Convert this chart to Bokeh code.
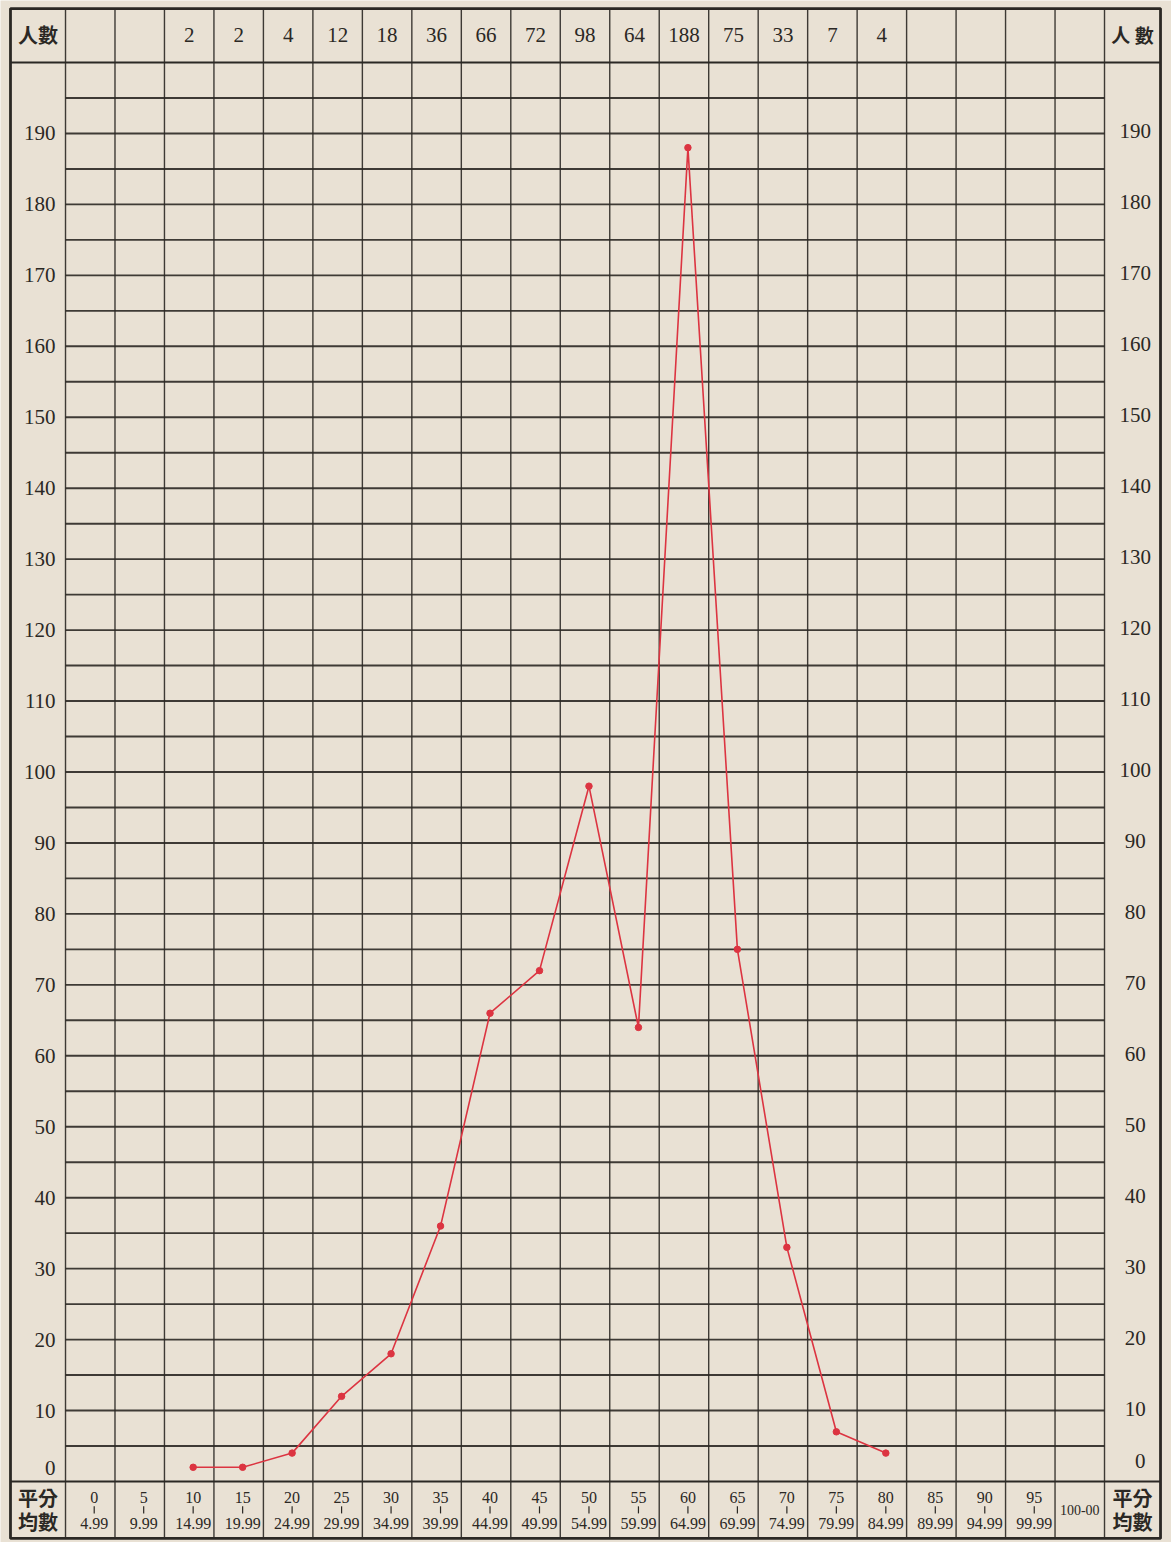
from bokeh.plotting import figure
from bokeh.models import ColumnDataSource, Range1d
from bokeh.embed import file_html
from bokeh.resources import INLINE
from bokeh.core.properties import value

# ---------------- data ----------------
class_lower = list(range(0, 105, 5))            # 21 score classes: 0-4.99 ... 100
class_from = ["0", "5", "10", "15", "20", "25", "30", "35", "40", "45", "50",
              "55", "60", "65", "70", "75", "80", "85", "90", "95"]
class_to = ["4.99", "9.99", "14.99", "19.99", "24.99", "29.99", "34.99", "39.99",
            "44.99", "49.99", "54.99", "59.99", "64.99", "69.99", "74.99", "79.99",
            "84.99", "89.99", "94.99", "99.99"]
last_class = "100-00"
counts = [None, None, 2, 2, 4, 12, 18, 36, 66, 72, 98, 64, 188, 75, 33, 7, 4,
          None, None, None, None]
y_ticks = list(range(0, 200, 10))
count_label = "人數"
score_label_top = "平分"
score_label_bot = "均數"

# ---------------- styles ----------------
PAPER = "#e9e1d4"
INK = "#2b2824"
RED = "#dc3441"
SERIF = value("Liberation Serif")
CJK = value("Noto Sans CJK TC")

COLW = 5.0
LEFT_EDGE = -5.56
RIGHT_EDGE = 110.66
TOP = 207.6
HEAD = 200.0
BOTTOM = -8.03
GRID_TOP = 195
right_sep = class_lower[-1] + COLW

p = figure(width=1171, height=1542,
           x_range=Range1d(-6.57, 111.77), y_range=Range1d(-8.6, 208.74),
           output_backend="svg", toolbar_location=None,
           x_axis_type=None, y_axis_type=None, min_border=0,
           background_fill_color=PAPER, border_fill_color=PAPER,
           outline_line_color=None)
p.grid.visible = False

# vertical separators (full height)
vx = [class_lower[0]] + [c + COLW for c in class_lower]
p.segment(x0=vx, y0=[BOTTOM] * len(vx), x1=vx, y1=[TOP] * len(vx),
          line_color=INK, line_width=1.4, line_alpha=0.9)

# horizontal grid lines in data area
hy = list(range(5, GRID_TOP + 1, 5))
p.segment(x0=[0] * len(hy), y0=hy, x1=[right_sep] * len(hy), y1=hy,
          line_color=INK, line_width=1.9, line_alpha=0.9)

# header / footer separators (full width)
p.segment(x0=[LEFT_EDGE] * 2, y0=[0, HEAD], x1=[RIGHT_EDGE] * 2, y1=[0, HEAD],
          line_color=INK, line_width=2.0)

# outer frame
p.quad(left=[LEFT_EDGE], right=[RIGHT_EDGE], bottom=[BOTTOM], top=[TOP],
       fill_alpha=0, line_color=INK, line_width=2.8)

# header counts
hx = [c + COLW / 2 for c, n in zip(class_lower, counts) if n is not None]
ht = [str(n) for n in counts if n is not None]
p.text(x=hx, y=[203.9] * len(hx), text=ht, text_font=SERIF,
       text_font_size="21px", text_color=INK, text_align="center",
       text_baseline="middle")

# y tick labels
yl = [t for t in y_ticks if t > 0]
p.text(x=[-1.0] * len(yl), y=yl, text=[str(t) for t in yl], text_font=SERIF,
       text_font_size="21px", text_color=INK, text_align="right",
       text_baseline="middle")
p.text(x=[108.1] * len(yl), y=yl, text=[str(t) for t in yl], text_font=SERIF,
       text_font_size="21px", text_color=INK, text_align="center",
       text_baseline="middle", y_offset=-2)
p.text(x=[-1.0], y=[y_ticks[0]], text=[str(y_ticks[0])], text_font=SERIF,
       text_font_size="21px", text_color=INK, text_align="right",
       text_baseline="middle", y_offset=-13)
p.text(x=[108.6], y=[y_ticks[0]], text=[str(y_ticks[0])], text_font=SERIF,
       text_font_size="21px", text_color=INK, text_align="center",
       text_baseline="middle", y_offset=-20)

# bottom class labels
bx = [c + 2.9 for c in class_lower[:len(class_from)]]
p.text(x=bx, y=[-2.3] * len(bx), text=class_from, text_font=SERIF,
       text_font_size="16px", text_color=INK, text_align="center",
       text_baseline="middle")
p.text(x=bx, y=[-5.9] * len(bx), text=class_to, text_font=SERIF,
       text_font_size="16px", text_color=INK, text_align="center",
       text_baseline="middle")
p.segment(x0=bx, y0=[-3.5] * len(bx), x1=bx, y1=[-4.5] * len(bx),
          line_color=INK, line_width=1.2)
p.text(x=[class_lower[-1] + COLW / 2], y=[-4.0], text=[last_class],
       text_font=SERIF, text_font_size="14px", text_color=INK,
       text_align="center", text_baseline="middle")

# corner labels
lc = (LEFT_EDGE + 0) / 2
rc = (right_sep + RIGHT_EDGE) / 2
p.text(x=[lc], y=[203.9], text=[count_label], text_font=CJK,
       text_font_size="20px", text_font_style="bold", text_color=INK,
       text_align="center", text_baseline="middle")
p.text(x=[rc], y=[203.9], text=["人 數"], text_font=CJK,
       text_font_size="19px", text_font_style="bold", text_color=INK,
       text_align="center", text_baseline="middle")
for cx in (lc, rc):
    p.text(x=[cx], y=[-2.2], text=[score_label_top], text_font=CJK,
           text_font_size="20px", text_font_style="bold", text_color=INK,
           text_align="center", text_baseline="middle")
    p.text(x=[cx], y=[-5.7], text=[score_label_bot], text_font=CJK,
           text_font_size="20px", text_font_style="bold", text_color=INK,
           text_align="center", text_baseline="middle")

# frequency polygon
px = [c + 2.9 for c, n in zip(class_lower, counts) if n is not None]
py = [n for n in counts if n is not None]
src = ColumnDataSource(dict(x=px, y=py))
p.line("x", "y", source=src, line_color=RED, line_width=1.6)
p.scatter("x", "y", source=src, size=6.5, fill_color=RED, line_color=RED)

html = file_html(p, INLINE)
html = html.replace("<body>", '<body style="background:%s">' % PAPER, 1)
open("out.html", "w").write(html)
